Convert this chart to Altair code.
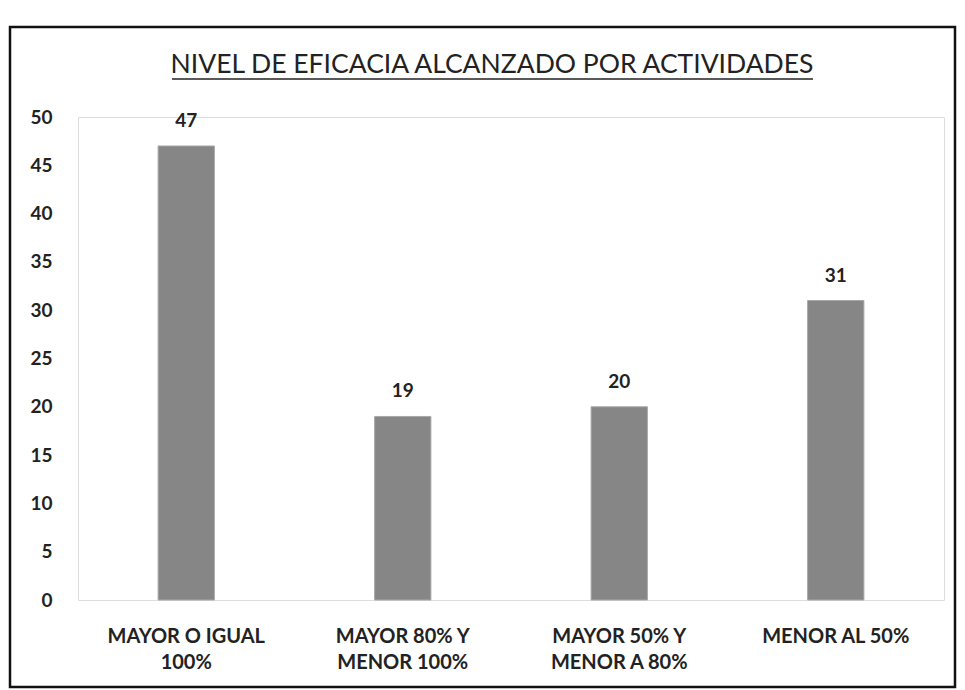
import altair as alt
import pandas as pd

categories = ["MAYOR O IGUAL\n100%", "MAYOR 80% Y\nMENOR 100%", "MAYOR 50% Y\nMENOR A 80%", "MENOR AL 50%"]
values = [47, 19, 20, 31]
title_text = "NIVEL DE EFICACIA ALCANZADO POR ACTIVIDADES"
y_ticks = [0, 5, 10, 15, 20, 25, 30, 35, 40, 45, 50]

df = pd.DataFrame({"cat": categories, "val": values})
FONT = "Lato"

x_enc = alt.X(
    "cat:N", sort=categories, title=None,
    scale=alt.Scale(paddingInner=0.74, paddingOuter=0.37),
    axis=alt.Axis(labelAngle=0, labelExpr="split(datum.label, '\\n')", labelLineHeight=26,
                  labelFontSize=20, labelFontWeight="bold", labelColor="#222222",
                  labelFont=FONT, labelPadding=26, ticks=False, domain=False, labelBaseline="top"),
)
y_enc = alt.Y(
    "val:Q", title=None,
    scale=alt.Scale(domain=[0, 50], nice=False),
    axis=alt.Axis(values=y_ticks, grid=False, ticks=False, domain=False, labelFontSize=19,
                  labelFontWeight="bold", labelColor="#222222", labelFont=FONT, labelPadding=26),
)

bars = alt.Chart(df).mark_bar(color="#868686", stroke="#a8a8a8", strokeWidth=1).encode(x=x_enc, y=y_enc)
labels = alt.Chart(df).mark_text(dy=-19, fontSize=19, fontWeight="bold", font=FONT, color="#222222",
                                 baseline="alphabetic").encode(x=x_enc, y=y_enc, text="val:Q")

tdf = pd.DataFrame({"t": [title_text]})
title = alt.Chart(tdf).mark_text(fontSize=26.5, font=FONT, color="#222222", align="center",
                                 baseline="alphabetic").encode(
    x=alt.value(414), y=alt.value(-44), text="t:N")
underline = alt.Chart(tdf).mark_rule(color="#222222", strokeWidth=1.5).encode(
    x=alt.value(94), x2=alt.value(735), y=alt.value(-38))
border = alt.Chart(tdf).mark_rect(fill=None, stroke="#111111", strokeWidth=2.5).encode(
    x=alt.value(-68), x2=alt.value(877), y=alt.value(-90), y2=alt.value(570))

chart = alt.layer(border, bars, labels, title, underline).properties(
    width=866, height=483,
    autosize=alt.AutoSizeParams(type="none"),
    padding={"left": 70, "top": 109, "right": 13, "bottom": 90},
).configure_view(stroke="#c8c8c8", strokeWidth=1).configure(background="white")

chart.save("out.html", embed_options={"renderer": "svg", "actions": False})
